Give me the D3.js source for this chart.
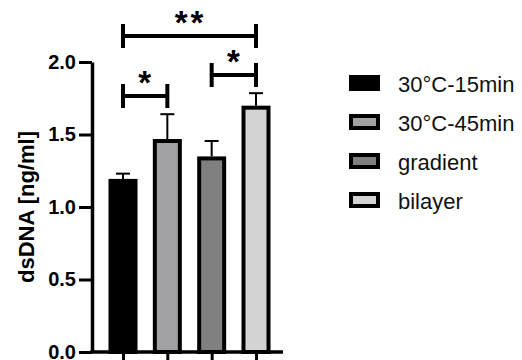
<!DOCTYPE html>
<html>
<head>
<meta charset="utf-8">
<script src="https://cdn.jsdelivr.net/npm/d3@7"></script>
<style>
  body { margin: 0; background: #fff; }
  svg { display: block; font-family: Arial, "Liberation Sans", sans-serif; }
</style>
</head>
<body>
<svg id="chart" width="522" height="360"></svg>
<script>
// data
const groups = ["30°C-15min", "30°C-45min", "gradient", "bilayer"];
const means = [1.18, 1.455, 1.335, 1.685];
const sds = [0.05, 0.185, 0.12, 0.1];
const fills = ["#000000", "#a2a2a4", "#808080", "#d3d3d3"];
const yTicks = [0, 0.5, 1.0, 1.5, 2.0];
// significance brackets: from group, to group, bracket height (data units), label
const sigFrom = [0, 0, 2];
const sigTo = [3, 1, 3];
const sigLevel = [2.18, 1.765, 1.91];
const sigLabel = ["**", "*", "*"];

const svg = d3.select("#chart");

const y = d3.scaleLinear().domain([0, 2]).range([352, 62]);
const x = d3.scalePoint().domain(groups).range([123, 256]);
const barW = 25;
const axisX = 92;

// bars
svg.append("g")
  .selectAll("rect")
  .data(groups)
  .join("rect")
  .attr("x", d => x(d) - barW / 2)
  .attr("y", (d, i) => y(means[i]))
  .attr("width", barW)
  .attr("height", (d, i) => y(0) - y(means[i]))
  .attr("fill", (d, i) => fills[i])
  .attr("stroke", "#000")
  .attr("stroke-width", 4);

// upper error bars
const err = svg.append("g").attr("stroke", "#000").attr("stroke-width", 2);
groups.forEach((g, i) => {
  const top = y(means[i] + sds[i]);
  err.append("line")
    .attr("x1", x(g)).attr("x2", x(g))
    .attr("y1", y(means[i]) - 2).attr("y2", top);
  err.append("line")
    .attr("x1", x(g) - 7).attr("x2", x(g) + 7)
    .attr("y1", top).attr("y2", top);
});

// y axis
const yAxis = svg.append("g")
  .attr("transform", `translate(${axisX},0)`)
  .call(d3.axisLeft(y).tickValues(yTicks).tickFormat(d3.format(".1f"))
    .tickSize(13).tickSizeOuter(0).tickPadding(3));
yAxis.select(".domain").attr("stroke-width", 3.5);
yAxis.selectAll(".tick line").attr("stroke-width", 3);
yAxis.selectAll(".tick text")
  .attr("font-size", 20)
  .attr("font-weight", "bold")
  .attr("font-family", "Arial, 'Liberation Sans', sans-serif")
  .attr("fill", "#000");

// x axis (baseline + ticks, labels cut off by the frame)
svg.append("line")
  .attr("x1", axisX - 1.75).attr("x2", 283)
  .attr("y1", y(0)).attr("y2", y(0))
  .attr("stroke", "#000").attr("stroke-width", 3.5);
const xAxis = svg.append("g")
  .attr("transform", `translate(0,${y(0)})`)
  .call(d3.axisBottom(x).tickSize(12).tickFormat(""));
xAxis.select(".domain").remove();
xAxis.selectAll(".tick line").attr("stroke-width", 3);

// y label
svg.append("text")
  .attr("transform", "translate(26,207) rotate(-90)")
  .attr("text-anchor", "middle")
  .attr("dominant-baseline", "central")
  .attr("font-size", 22)
  .attr("font-weight", "bold")
  .text("dsDNA [ng/ml]");

// significance brackets
const sig = svg.append("g");
sigFrom.forEach((a, i) => {
  const x1 = x(groups[a]);
  const x2 = x(groups[sigTo[i]]);
  const yy = y(sigLevel[i]);
  sig.append("path")
    .attr("d", `M${x1},${yy - 12}V${yy + 12}M${x1},${yy}H${x2}M${x2},${yy - 12}V${yy + 12}`)
    .attr("fill", "none")
    .attr("stroke", "#000")
    .attr("stroke-width", 4);
  sig.append("text")
    .attr("x", (x1 + x2) / 2 + 1)
    .attr("y", yy - 2)
    .attr("text-anchor", "middle")
    .attr("font-size", 33)
    .attr("font-weight", "bold")
    .attr("letter-spacing", 3)
    .text(sigLabel[i]);
});

// legend
const legend = svg.append("g")
  .selectAll("g")
  .data(groups)
  .join("g")
  .attr("transform", (d, i) => `translate(349,${83 + i * 39})`);
legend.append("rect")
  .attr("x", 2).attr("y", -6)
  .attr("width", 27).attr("height", 12)
  .attr("fill", (d, i) => fills[i])
  .attr("stroke", "#000")
  .attr("stroke-width", 4);
legend.append("text")
  .attr("x", 49)
  .attr("y", 8.5)
  .attr("font-size", 22)
  .attr("fill", "#111")
  .text(d => d);
</script>
</body>
</html>
